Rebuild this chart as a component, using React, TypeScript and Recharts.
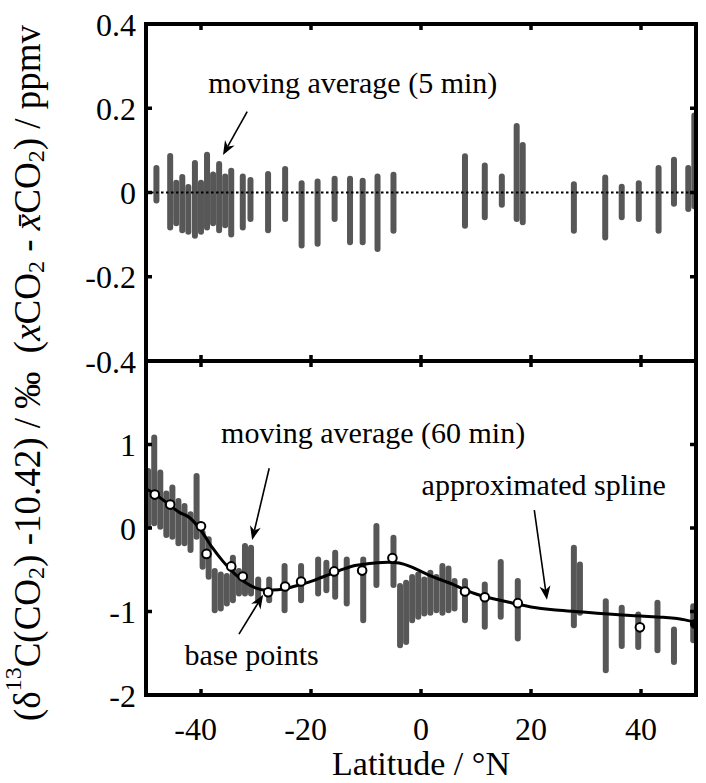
import React from 'react';
import { ComposedChart, Bar, Line, Scatter, XAxis, YAxis, ReferenceLine, ReferenceDot } from 'recharts';

const FONT = "'Liberation Serif', 'DejaVu Serif', 'Times New Roman', serif";
const INK = '#000';
const BAR = '#575757';
const W = 706;
const H = 783;
const TICK_FS = 32;
const TL = 6;
const TW = 3.5;
const FRAME = { stroke: INK, strokeWidth: 4, strokeLinecap: 'square' as const };
const TXT: React.CSSProperties = { fontFamily: FONT };

// ---------- ticks ----------
const xTicks = [-40, -20, 0, 20, 40];
const topYTicks = [-0.4, -0.2, 0, 0.2, 0.4];
const topRightTicks = [-0.2, 0, 0.2];
const bottomYTicks = [-2, -1, 0, 1];
const bottomRightTicks = [-1, 0, 1];

// ---------- top panel: xCO2 deviation (ppmv), moving average 5 min ----------
const topLat = [-48.1, -45.6, -44.5, -43.4, -42.3, -41.1, -40.0, -38.9, -37.8, -36.7, -35.6, -34.5, -32.4, -31.0, -27.8, -24.7, -21.7, -18.8, -15.7, -12.9, -10.6, -7.9, -5.0, 8.0, 11.6, 14.7, 17.4, 18.5, 27.8, 33.5, 36.5, 39.6, 43.2, 46.0, 48.6, 49.7];
const topLow = [-0.026, -0.09, -0.08, -0.097, -0.1, -0.11, -0.1, -0.09, -0.08, -0.097, -0.085, -0.107, -0.09, -0.07, -0.097, -0.07, -0.133, -0.129, -0.07, -0.125, -0.125, -0.141, -0.098, -0.086, -0.066, -0.036, -0.07, -0.078, -0.098, -0.114, -0.066, -0.07, -0.098, -0.034, -0.046, -0.04];
const topHigh = [0.065, 0.094, 0.03, 0.044, 0.02, 0.077, 0.03, 0.097, 0.05, 0.075, 0.045, 0.059, 0.045, 0.037, 0.051, 0.063, 0.029, 0.033, 0.04, 0.04, 0.035, 0.045, 0.049, 0.093, 0.071, 0.045, 0.165, 0.12, 0.027, 0.043, 0.021, 0.029, 0.065, 0.085, 0.065, 0.19];

// ---------- bottom panel: delta13C (permil), moving average 60 min ----------
const botLat = [-49.6, -48.5, -47.4, -46.3, -45.2, -44.1, -43.0, -41.9, -40.8, -39.7, -38.6, -37.5, -36.4, -35.3, -34.2, -33.1, -32.0, -30.9, -29.6, -27.6, -24.8, -21.8, -18.7, -17.2, -15.6, -13.5, -10.5, -8.1, -5.0, -3.8, -2.7, -1.6, -0.5, 0.6, 1.7, 2.8, 3.9, 5.0, 6.1, 8.0, 11.6, 14.5, 17.6, 27.8, 28.9, 33.6, 36.5, 39.5, 43.0, 46.0, 49.5];
const botLow = [-0.02, 0.02, -0.02, -0.12, -0.14, -0.22, -0.22, -0.3, -0.14, -0.5, -0.62, -1.02, -1.0, -0.94, -0.9, -0.82, -0.82, -0.82, -0.9, -0.9, -1.02, -0.9, -0.82, -0.78, -0.86, -0.94, -1.14, -0.72, -0.72, -1.44, -1.4, -1.14, -1.1, -1.06, -1.05, -1.02, -1.05, -1.02, -1.0, -1.14, -1.22, -1.1, -1.36, -1.2, -1.05, -1.74, -1.45, -1.46, -1.5, -1.64, -1.38];
const botHigh = [0.72, 1.12, 0.7, 0.45, 0.52, 0.36, 0.3, 0.2, 0.66, -0.02, -0.1, -0.48, -0.52, -0.54, -0.32, -0.48, -0.18, -0.2, -0.58, -0.58, -0.42, -0.42, -0.34, -0.38, -0.26, -0.34, -0.34, 0.06, -0.08, -0.66, -0.62, -0.55, -0.52, -0.58, -0.5, -0.55, -0.42, -0.45, -0.6, -0.6, -0.64, -0.37, -0.6, -0.2, -0.4, -0.84, -0.92, -1.0, -0.86, -1.18, -0.9];

// approximated spline
const splineLat = [-50, -48, -46, -44, -42, -40, -38, -36, -34, -32, -30, -28, -26, -24, -22, -20, -18, -16, -14, -12, -10, -8, -6, -4, -2, 0, 2, 4, 6, 8, 10, 12, 14, 16, 18, 20, 24, 28, 32, 36, 40, 44, 48, 50];
const splineVal = [0.47, 0.39, 0.29, 0.19, 0.12, -0.03, -0.23, -0.4, -0.54, -0.65, -0.72, -0.745, -0.74, -0.715, -0.68, -0.64, -0.59, -0.54, -0.49, -0.45, -0.43, -0.415, -0.41, -0.42, -0.46, -0.52, -0.58, -0.63, -0.68, -0.74, -0.79, -0.83, -0.86, -0.89, -0.92, -0.945, -0.98, -1.0, -1.02, -1.04, -1.055, -1.07, -1.1, -1.13];

// base points
const baseLat = [-48.4, -45.6, -40.0, -39.0, -34.5, -32.4, -27.8, -24.7, -21.8, -15.8, -10.7, -5.2, 8.0, 11.6, 17.6, 39.8];
const baseVal = [0.4, 0.28, 0.02, -0.31, -0.46, -0.58, -0.77, -0.7, -0.64, -0.52, -0.51, -0.36, -0.76, -0.83, -0.9, -1.19];
const endLat = [49.8];
const endVal = [-1.15];

// annotations: [lat, value]
const topNoteText = 'moving average (5 min)';
const topNotePos = [-12.4, 0.236];
const topArrow = [[-31.6, 0.192], [-36.0, 0.089]];
const maNoteText = 'moving average (60 min)';
const maNotePos = [-8.7, 1.02];
const maArrow = [[-27.6, 0.715], [-30.7, -0.144]];
const splineNoteText = 'approximated spline';
const splineNotePos = [22.3, 0.4];
const splineArrow = [[20.6, 0.215], [22.9, -0.86]];
const baseNoteText = 'base points';
const baseNotePos = [-30.8, -1.64];
const baseArrow = [[-33.1, -1.27], [-28.7, -0.8]];

const topData = topLat.map((lat, i) => ({ lat, range: [topLow[i], topHigh[i]] }));
const botData = botLat.map((lat, i) => ({ lat, range: [botLow[i], botHigh[i]] }));
const splineData = splineLat.map((lat, i) => ({ lat, val: splineVal[i] }));
const baseData = baseLat.map((lat, i) => ({ lat, val: baseVal[i] }));
const endData = endLat.map((lat, i) => ({ lat, val: endVal[i] }));

// ---------- tick renderers ----------
const leftTick = (fmt: (v: number) => string) => (p: any) => (
  <g>
    <line x1={p.x} y1={p.y} x2={p.x + TL} y2={p.y} stroke={INK} strokeWidth={TW} />
    <text x={p.x - 10} y={p.y} dy="0.36em" textAnchor="end" style={TXT} fontFamily={FONT} fontSize={TICK_FS} fill={INK}>
      {fmt(p.payload.value)}
    </text>
  </g>
);
const rightTick = (p: any) => <line x1={p.x} y1={p.y} x2={p.x - TL} y2={p.y} stroke={INK} strokeWidth={TW} />;
const topTick = (p: any) => <line x1={p.x} y1={p.y} x2={p.x} y2={p.y + TL} stroke={INK} strokeWidth={TW} />;
const bottomTick = (p: any) => <line x1={p.x} y1={p.y} x2={p.x} y2={p.y - TL} stroke={INK} strokeWidth={TW} />;
const bottomLabelTick = (p: any) => {
  const v = p.payload.value as number;
  const digits = String(Math.abs(v)).length;
  const half = (digits * 0.5 * TICK_FS) / 2;
  return (
    <g>
      <line x1={p.x} y1={p.y} x2={p.x} y2={p.y - TL} stroke={INK} strokeWidth={TW} />
      <text x={p.x + half} y={p.y + 45} textAnchor="end" style={TXT} fontFamily={FONT} fontSize={TICK_FS} fill={INK}>
        {String(v)}
      </text>
    </g>
  );
};

const fmtTop = (v: number) => (v === 0 ? '0' : v.toFixed(1));
const fmtBot = (v: number) => String(v);

// ---------- annotation shapes ----------
const noteShape = (label: string) => (p: any) => (
  <text x={p.cx} y={p.cy} textAnchor="middle" style={TXT} fontFamily={FONT} fontSize={30} fill={INK}>
    {label}
  </text>
);
const arrowShape = (p: any) => {
  const { x1, y1, x2, y2 } = p;
  const dx = x2 - x1;
  const dy = y2 - y1;
  const len = Math.hypot(dx, dy) || 1;
  const ux = dx / len;
  const uy = dy / len;
  const hl = 14;
  const hw = 5.5;
  const bx = x2 - ux * hl;
  const by = y2 - uy * hl;
  const nx = x2 - ux * hl * 0.7;
  const ny = y2 - uy * hl * 0.7;
  const pts = `${x2},${y2} ${bx - uy * hw},${by + ux * hw} ${nx},${ny} ${bx + uy * hw},${by - ux * hw}`;
  return (
    <g>
      <line x1={x1} y1={y1} x2={nx} y2={ny} stroke={INK} strokeWidth={1.6} />
      <polygon points={pts} fill={INK} />
    </g>
  );
};
const baseDot = (p: any) => <circle cx={p.cx} cy={p.cy} r={4.3} fill="#fff" stroke={INK} strokeWidth={2} />;
const endDot = (p: any) => <circle cx={p.cx} cy={p.cy} r={4.5} fill={INK} stroke={INK} strokeWidth={1} />;

// ---------- axis labels ----------
const yLabel = (p: any) => {
  const vb = p.viewBox || { x: 145 };
  const cx = vb.x - 118;
  const cy = 373;
  const sub = 9;
  const sup = 14;
  return (
    <text x={cx} y={cy} transform={`rotate(-90 ${cx} ${cy})`} textAnchor="middle" dominantBaseline="central" style={TXT} fontFamily={FONT} fontSize={37} fill={INK}>
      <tspan>(δ</tspan>
      <tspan dy={-sup} fontSize={24}>13</tspan>
      <tspan dy={sup}>C(CO</tspan>
      <tspan dy={sub} fontSize={24}>2</tspan>
      <tspan dy={-sub}>{') -10.42) / ‰\u00A0\u00A0('}</tspan>
      <tspan fontStyle="italic">x</tspan>
      <tspan>CO</tspan>
      <tspan dy={sub} fontSize={24}>2</tspan>
      <tspan dy={-sub}>{'\u00A0-\u00A0'}</tspan>
      <tspan fontStyle="italic">{'x\u0304'}</tspan>
      <tspan>CO</tspan>
      <tspan dy={sub} fontSize={24}>2</tspan>
      <tspan dy={-sub}>) / ppmv</tspan>
    </text>
  );
};
const xTitle = (p: any) => {
  const vb = p.viewBox || { x: 146, y: 695, width: 550 };
  return (
    <text x={vb.x + vb.width / 2} y={vb.y + 80} textAnchor="middle" style={TXT} fontFamily={FONT} fontSize={34} fill={INK}>
      Latitude / °N
    </text>
  );
};

const abs: React.CSSProperties = { position: 'absolute', left: 0, top: 0 };

export default function App() {
  return (
    <div style={{ position: 'absolute', left: 0, top: 0, width: W, height: H, background: '#fff', fontFamily: FONT }}>
      <div style={abs}>
        <ComposedChart width={W} height={H} data={topData} margin={{ top: 23, right: 9, bottom: 421, left: 145 }}>
          <XAxis xAxisId="b" dataKey="lat" type="number" domain={[-50, 50]} allowDataOverflow ticks={xTicks} interval={0}
            orientation="bottom" height={1} tickSize={0} tickMargin={0} tickLine={false} axisLine={FRAME} tick={bottomTick} />
          <XAxis xAxisId="t" dataKey="lat" type="number" domain={[-50, 50]} allowDataOverflow ticks={xTicks} interval={0}
            orientation="top" height={1} tickSize={0} tickMargin={0} tickLine={false} axisLine={FRAME} tick={topTick} />
          <YAxis yAxisId="l" type="number" domain={[-0.4, 0.4]} allowDataOverflow ticks={topYTicks} interval={0}
            orientation="left" width={1} tickSize={0} tickMargin={0} tickLine={false} axisLine={FRAME} tick={leftTick(fmtTop)} label={yLabel} />
          <YAxis yAxisId="r" type="number" domain={[-0.4, 0.4]} allowDataOverflow ticks={topRightTicks} interval={0}
            orientation="right" width={1} tickSize={0} tickMargin={0} tickLine={false} axisLine={FRAME} tick={rightTick} />
          <Bar xAxisId="b" yAxisId="l" dataKey="range" fill={BAR} barSize={6} radius={3} isAnimationActive={false} />
          <ReferenceLine xAxisId="b" yAxisId="l" y={0} stroke={INK} strokeWidth={2} strokeDasharray="2.5 2.5" />
          <ReferenceDot xAxisId="t" yAxisId="l" x={topNotePos[0]} y={topNotePos[1]} r={0} shape={noteShape(topNoteText)} />
          <ReferenceLine xAxisId="t" yAxisId="l"
            segment={[{ x: topArrow[0][0], y: topArrow[0][1] }, { x: topArrow[1][0], y: topArrow[1][1] }]}
            shape={arrowShape} />
        </ComposedChart>
      </div>
      <div style={abs}>
        <ComposedChart width={W} height={H} data={botData} margin={{ top: 360, right: 9, bottom: 87, left: 145 }}>
          <XAxis xAxisId="b" dataKey="lat" type="number" domain={[-50, 50]} allowDataOverflow ticks={xTicks} interval={0}
            orientation="bottom" height={1} tickSize={0} tickMargin={0} tickLine={false} axisLine={FRAME} tick={bottomLabelTick} label={xTitle} />
          <XAxis xAxisId="t" dataKey="lat" type="number" domain={[-50, 50]} allowDataOverflow ticks={xTicks} interval={0}
            orientation="top" height={1} tickSize={0} tickMargin={0} tickLine={false} axisLine={FRAME} tick={topTick} />
          <YAxis yAxisId="l" type="number" domain={[-2, 2]} allowDataOverflow ticks={bottomYTicks} interval={0}
            orientation="left" width={1} tickSize={0} tickMargin={0} tickLine={false} axisLine={FRAME} tick={leftTick(fmtBot)} />
          <YAxis yAxisId="r" type="number" domain={[-2, 2]} allowDataOverflow ticks={bottomRightTicks} interval={0}
            orientation="right" width={1} tickSize={0} tickMargin={0} tickLine={false} axisLine={FRAME} tick={rightTick} />
          <Bar xAxisId="b" yAxisId="l" dataKey="range" fill={BAR} barSize={6} radius={3} isAnimationActive={false} />
          <Line xAxisId="t" yAxisId="l" data={splineData} dataKey="val" type="monotone" stroke={INK} strokeWidth={3}
            dot={false} activeDot={false} isAnimationActive={false} />
          <Scatter xAxisId="t" yAxisId="l" data={baseData} dataKey="val" shape={baseDot} isAnimationActive={false} />
          <Scatter xAxisId="t" yAxisId="l" data={endData} dataKey="val" shape={endDot} isAnimationActive={false} />
          <ReferenceDot xAxisId="t" yAxisId="l" x={maNotePos[0]} y={maNotePos[1]} r={0} shape={noteShape(maNoteText)} />
          <ReferenceDot xAxisId="t" yAxisId="l" x={splineNotePos[0]} y={splineNotePos[1]} r={0} shape={noteShape(splineNoteText)} />
          <ReferenceDot xAxisId="t" yAxisId="l" x={baseNotePos[0]} y={baseNotePos[1]} r={0} shape={noteShape(baseNoteText)} />
          <ReferenceLine xAxisId="t" yAxisId="l"
            segment={[{ x: maArrow[0][0], y: maArrow[0][1] }, { x: maArrow[1][0], y: maArrow[1][1] }]} shape={arrowShape} />
          <ReferenceLine xAxisId="t" yAxisId="l"
            segment={[{ x: splineArrow[0][0], y: splineArrow[0][1] }, { x: splineArrow[1][0], y: splineArrow[1][1] }]} shape={arrowShape} />
          <ReferenceLine xAxisId="t" yAxisId="l"
            segment={[{ x: baseArrow[0][0], y: baseArrow[0][1] }, { x: baseArrow[1][0], y: baseArrow[1][1] }]} shape={arrowShape} />
        </ComposedChart>
      </div>
    </div>
  );
}
